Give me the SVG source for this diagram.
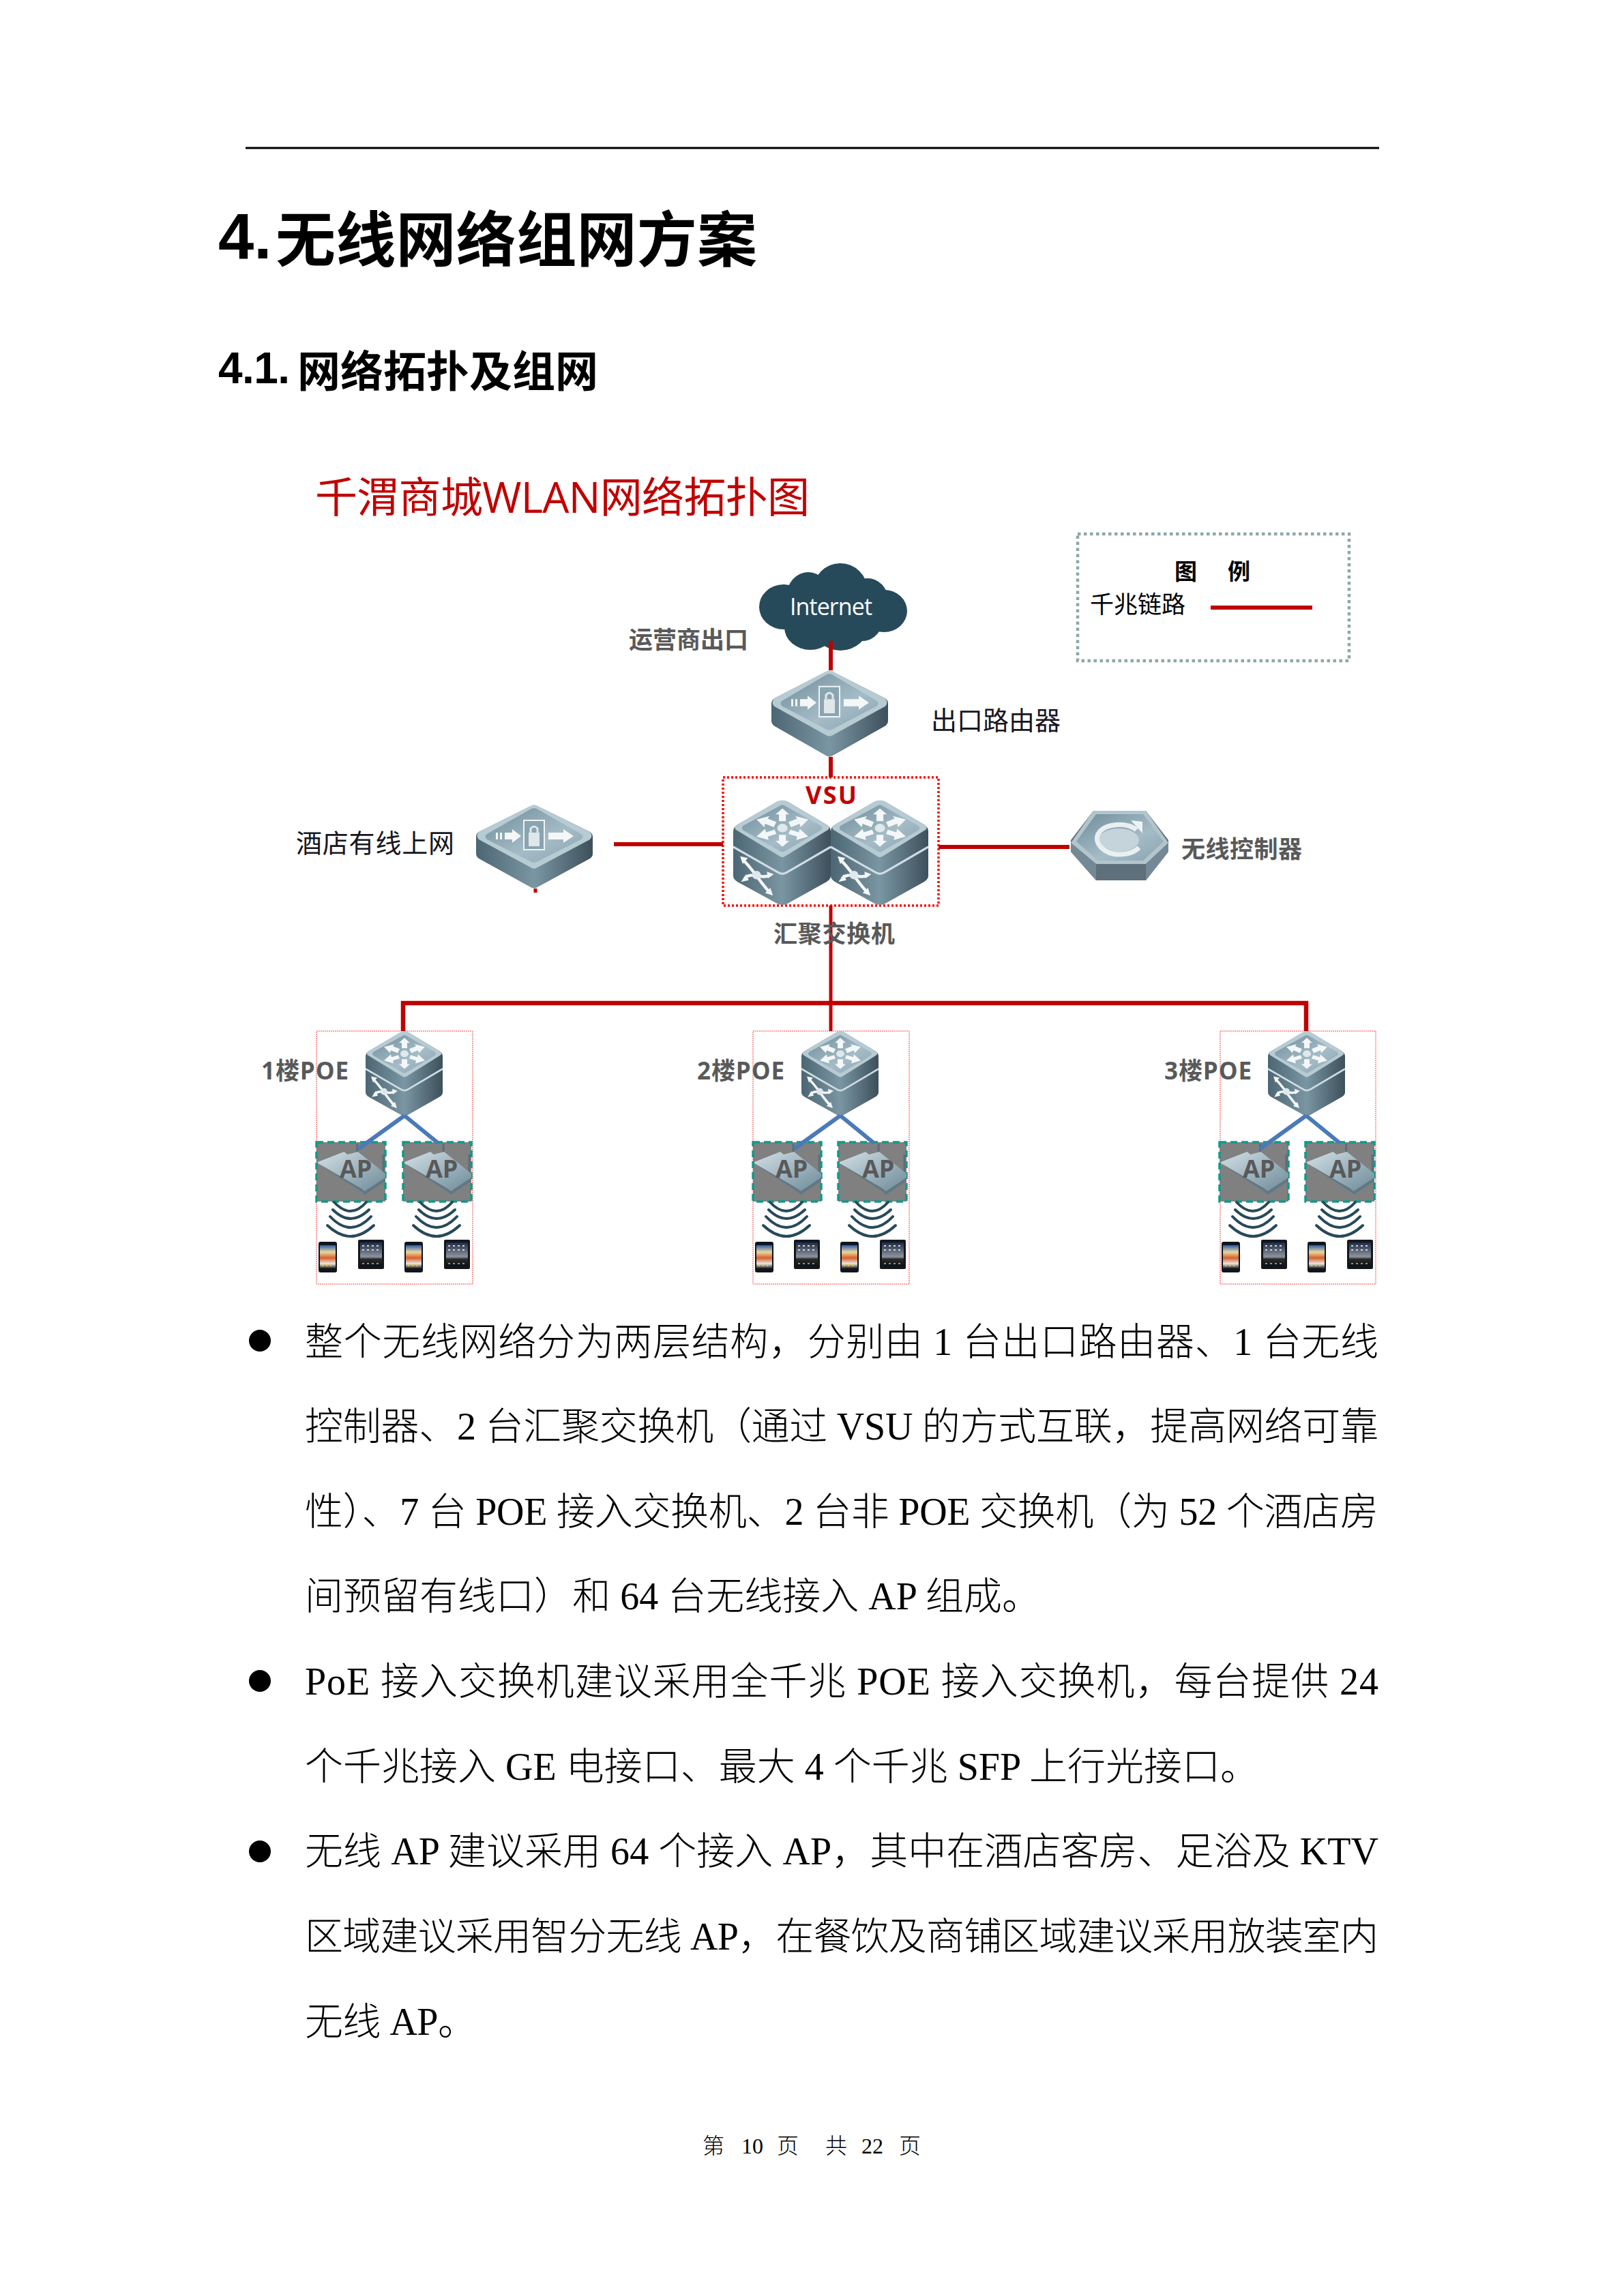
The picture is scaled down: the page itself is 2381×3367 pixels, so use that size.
<svg xmlns="http://www.w3.org/2000/svg" xmlns:xlink="http://www.w3.org/1999/xlink" width="2381" height="3367" viewBox="0 0 2381 3367">
<style>
text{white-space:pre}
.h{font-family:"Liberation Sans","Noto Sans CJK SC",sans-serif;font-weight:700;fill:#000}
.b{font-family:"Liberation Serif","Noto Sans CJK SC",serif;font-size:56px;fill:#000;font-weight:300}
.f{font-family:"Liberation Serif","Noto Sans CJK SC",serif;font-size:32px;fill:#000;font-weight:300}
.s{font-family:"Open Sans","Noto Sans CJK SC",sans-serif}
.g{font-weight:700;fill:#595959;font-size:35px}
.k{font-weight:400;fill:#16161f;font-size:38px}
.red{stroke:#c00000;fill:none;stroke-linecap:butt}
.blue{stroke:#4a7ab8;stroke-width:6;fill:none}
.poe{fill:none;stroke:#ff4040;stroke-width:1;stroke-dasharray:2 1}
.apb{fill:#808080;stroke:#109a88;stroke-width:3.5;stroke-dasharray:10 6}
.wave{fill:none;stroke:#274a5a;stroke-width:4;stroke-linecap:round}
.ic{fill:#f4f7f8}
.icl{fill:none;stroke:#f4f7f8;stroke-width:3.5}
</style>
<defs>
<linearGradient id="side" x1="0" x2="1" y1="0" y2="0"><stop offset="0" stop-color="#4c6674"/><stop offset=".5" stop-color="#7b96a3"/><stop offset=".62" stop-color="#6b8592"/><stop offset="1" stop-color="#3d505b"/></linearGradient>
<linearGradient id="plate" x1="0" x2="1" y1="0" y2="1"><stop offset="0" stop-color="#6f8c9a"/><stop offset=".6" stop-color="#a5bcc7"/><stop offset="1" stop-color="#89a3b0"/></linearGradient>
<linearGradient id="ap" x1="0" x2="1" y1="0" y2="1"><stop offset="0" stop-color="#d3e0e6"/><stop offset="1" stop-color="#6d8a98"/></linearGradient>
<linearGradient id="tab" x1="0" x2="0" y1="0" y2="1"><stop offset="0" stop-color="#1b2a4a"/><stop offset=".6" stop-color="#8d94a0"/><stop offset=".7" stop-color="#2a2a26"/><stop offset="1" stop-color="#101012"/></linearGradient>
<linearGradient id="ph" x1="0" x2="0" y1="0" y2="1"><stop offset="0" stop-color="#2a5aa8"/><stop offset=".3" stop-color="#e8d8a0"/><stop offset=".55" stop-color="#d8602a"/><stop offset=".8" stop-color="#e8e8e8"/><stop offset="1" stop-color="#222"/></linearGradient>
<symbol id="sw" viewBox="0 0 113 123" preserveAspectRatio="none">
<path fill="url(#side)" d="M51,2 Q57,-1 63,2 L108,29 Q113,32 113,37 L113,89 Q113,93 108,96 L62,122 Q57,124 52,122 L5,96 Q0,93 0,89 L0,37 Q0,32 5,29 Z"/>
<path fill="#b7cbd3" d="M51,2 Q57,-1 63,2 L108,29 Q113,32 110,35 L60,66 Q57,68 54,66 L3,35 Q0,32 5,29 Z"/>
<path fill="url(#plate)" d="M54,7 Q57,5 60,7 L101,30 Q105,33 101,36 L60,60 Q57,62 54,60 L12,36 Q8,33 12,30 Z"/>
<path fill="none" stroke="#cfdde3" stroke-width="2.5" d="M0,55 L52,85 Q57,88 62,85 L113,55"/>
<path class="ic" d="M53,25 V17 H49 L57,10 L65,17 H61 V25 Z M53,41 V48 H49 L57,55 L65,48 H61 V41 Z"/>
<path class="ic" d="M64,26 L74,22 L72,19 L87,23 L78,32 L77,28 L67,32 Z M66,35 L76,38 L77,34 L87,43 L73,47 L74,43 L64,40 Z"/>
<path class="ic" transform="translate(114,0) scale(-1,1)" d="M64,26 L74,22 L72,19 L87,23 L78,32 L77,28 L67,32 Z M66,35 L76,38 L77,34 L87,43 L73,47 L74,43 L64,40 Z"/>
<ellipse cx="57" cy="33" rx="6" ry="5" fill="#dfe8ec"/>
<path class="icl" d="M11,70 C22,80 30,95 42,108 M13,92 C22,83 32,94 43,88"/>
<path class="ic" d="M8,66 L17,68 L11,75 Z M46,112 L37,109 L43,103 Z M9,96 L15,87 L18,94 Z M47,87 L39,84 L40,92 Z"/>
<ellipse cx="27" cy="88" rx="5" ry="5" fill="#dfe8ec"/>
</symbol>
<symbol id="rt" viewBox="0 0 171 123" preserveAspectRatio="none">
<path fill="url(#side)" d="M80,2 Q85,-1 90,2 L167,40 Q171,43 171,47 L171,72 Q171,76 167,79 L90,121 Q85,124 80,121 L4,79 Q0,76 0,72 L0,47 Q0,43 4,40 Z"/>
<path fill="#b7cbd3" d="M80,2 Q85,-1 90,2 L167,40 Q172,46 167,51 L90,92 Q85,95 80,92 L4,51 Q-1,46 4,40 Z"/>
<path fill="url(#plate)" d="M81,6 Q85,4 89,6 L154,43 Q159,47 154,51 L89,84 Q85,86 81,84 L16,51 Q11,47 16,43 Z"/>
<path fill="#8aa4b0" stroke="#eef3f5" stroke-width="2" d="M70,23 H100 V66 H70 Z"/>
<path fill="#dfe7eb" d="M77,41 H93 V61 H77 Z"/>
<path fill="none" stroke="#dfe7eb" stroke-width="3" d="M80,41 V35 Q85,29 90,35 V41"/>
<path class="ic" d="M42,41 H53 V36 L66,46 L53,56 V51 H42 Z M106,41 H128 V36 L143,46 L128,56 V51 H106 Z"/>
<path class="ic" d="M29,41 h3 v10 h-3 z M35,41 h3 v10 h-3 z"/>
</symbol>
<symbol id="ac" viewBox="0 0 143 102" preserveAspectRatio="none">
<path fill="#5d707c" d="M33,0 H110 L143,43 V60 L110,102 H37 L0,60 V43 Z"/>
<path fill="#b2c5cd" d="M33,0 H110 L143,47 L110,78 H37 L0,47 Z"/>
<path fill="url(#plate)" d="M37,5 H106 L136,45 L106,73 H40 L8,45 Z"/>
<path fill="#748995" d="M0,47 L37,78 L37,102 L0,60 Z"/>
<path fill="#748995" d="M143,47 L110,78 L110,102 L143,60 Z"/>
<ellipse cx="70" cy="43" rx="30" ry="17" fill="#c5d4da"/>
<path fill="none" stroke="#e9eff2" stroke-width="7" d="M96,28 C85,17 50,17 40,34 C33,48 50,64 70,64 C84,64 94,60 100,54"/>
<path fill="#eef3f5" d="M88,14 L105,16 L105,33 Z"/>
</symbol>
<symbol id="apd" viewBox="0 0 100 87" preserveAspectRatio="none">
<path stroke="#5c6e78" stroke-width="3" d="M59,2 V16 M97,18 V44" fill="none"/>
<path fill="url(#ap)" d="M2,29 L40,14 L45,18 L60,14 L100,46 L100,52 L70,72 L65,68 L2,31 Z"/>
<path fill="#5f7885" d="M2,31 L65,68 L70,72 L100,52 L100,57 L70,77 L66,73 Z"/>
</symbol>
<symbol id="phone" viewBox="0 0 27 45" preserveAspectRatio="none">
<rect width="27" height="45" rx="3" fill="#10141c"/><rect x="2" y="5" width="23" height="34" fill="url(#ph)"/>
<g fill="#f2c230"><rect x="5" y="33" width="2" height="3"/><rect x="11" y="33" width="2" height="3"/><rect x="17" y="33" width="2" height="3"/></g>
</symbol>
<symbol id="tablet" viewBox="0 0 38 43" preserveAspectRatio="none">
<rect width="38" height="43" rx="2" fill="#14161a"/><rect x="3" y="4" width="32" height="35" fill="url(#tab)"/>
<g fill="#e0d8b0"><rect x="6" y="8" width="3" height="2"/><rect x="13" y="8" width="3" height="2"/><rect x="20" y="8" width="3" height="2"/><rect x="27" y="8" width="3" height="2"/><rect x="6" y="14" width="3" height="2"/><rect x="13" y="14" width="3" height="2"/><rect x="20" y="14" width="3" height="2"/><rect x="27" y="14" width="3" height="2"/></g>
<g fill="#5aa0d8"><rect x="6" y="34" width="3" height="2"/><rect x="13" y="34" width="3" height="2"/><rect x="20" y="34" width="3" height="2"/><rect x="27" y="34" width="3" height="2"/></g>
</symbol>
</defs>
<rect width="2381" height="3367" fill="#fff"/>

<g id="page-header">
<rect x="360" y="215.500" width="1662" height="3" fill="#000"/>
<text class="h" font-size="88"><tspan x="320" y="379" font-size="94">4.</tspan><tspan x="404" y="383" textLength="706">无线网络组网方案</tspan></text>
<text class="h" font-size="63"><tspan x="320" y="562" font-size="64" textLength="105">4.1.</tspan><tspan x="436" y="567" textLength="441">网络拓扑及组网</tspan></text>
</g>

<text id="diagram-title" class="s" font-size="62" x="462" y="752" fill="#c00000" textLength="725">千渭商城WLAN网络拓扑图</text>

<g id="legend">
<rect x="1580" y="783" width="398" height="186" fill="none" stroke="#8fa6a8" stroke-width="4.500" stroke-dasharray="4.500 4.500"/>
<text class="s" font-size="33" font-weight="700" x="1722" y="850" fill="#000">图</text>
<text class="s" font-size="33" font-weight="700" x="1800" y="850" fill="#000">例</text>
<text class="s" font-size="35" x="1598" y="899" fill="#000" textLength="140">千兆链路</text>
<rect x="1775" y="888" width="149" height="6" fill="#c00000"/>
</g>

<g id="internet">
<g fill="#274a5a"><ellipse cx="1149" cy="890" rx="36" ry="33"/><ellipse cx="1185" cy="875" rx="32" ry="36"/><ellipse cx="1232" cy="866" rx="40" ry="40"/><ellipse cx="1272" cy="880" rx="30" ry="32"/><ellipse cx="1296" cy="896" rx="34" ry="31"/><ellipse cx="1188" cy="920" rx="38" ry="33"/><ellipse cx="1232" cy="915" rx="42" ry="39"/><ellipse cx="1265" cy="905" rx="30" ry="35"/><ellipse cx="1220" cy="890" rx="70" ry="40"/></g>
<text class="s" font-size="34" x="1158" y="902" fill="#fff" textLength="121">Internet</text>
<text class="s g" x="922" y="951" textLength="175">运营商出口</text>
</g>

<g id="exit-router">
<use xlink:href="#rt" href="#rt" x="1131" y="983" width="171" height="127"/>
<text class="s k" x="1365" y="1070" textLength="190">出口路由器</text>
</g>

<g id="hotel-router">
<use xlink:href="#rt" href="#rt" x="698" y="1180" width="171" height="123"/>
<text class="s k" x="434" y="1250" textLength="232">酒店有线上网</text>
</g>

<g id="vsu">
<rect x="1060" y="1140" width="316" height="188" fill="none" stroke="#ff0000" stroke-width="3.500" stroke-dasharray="3 3"/>
<use xlink:href="#sw" href="#sw" x="1075" y="1173" width="143" height="154"/>
<use xlink:href="#sw" href="#sw" x="1218" y="1173" width="143" height="154"/>
<text class="s" font-size="36" font-weight="700" x="1181" y="1179" fill="#c00000" textLength="75">VSU</text>
</g>

<g id="wireless-controller">
<use xlink:href="#ac" href="#ac" x="1570" y="1189" width="143" height="102"/>
<text class="s g" x="1732" y="1258" textLength="177">无线控制器</text>
</g>

<g id="floor1">
<rect class="poe" x="464" y="1512" width="229" height="371"/>
<use xlink:href="#sw" href="#sw" x="536" y="1512" width="113" height="124"/>
<text class="s g" x="383" y="1583" textLength="128">1楼POE</text>
<g id="f1-ap1"><rect class="apb" x="464" y="1675" width="101" height="87"/><use xlink:href="#apd" href="#apd" x="464" y="1675" width="101" height="87"/><text class="s" font-size="36" font-weight="700" x="498" y="1727" fill="#595959">AP</text></g>
<g id="f1-ap2"><rect class="apb" x="591" y="1675" width="100" height="87"/><use xlink:href="#apd" href="#apd" x="591" y="1675" width="100" height="87"/><text class="s" font-size="36" font-weight="700" x="624" y="1727" fill="#595959">AP</text></g>
<g id="f1-w1" transform="translate(514,0)"><path class="wave" d="M-24,1763 Q0,1789 23,1763 M-26,1774 Q0,1800 27,1774 M-30,1784 Q0,1816 30,1784 M-34,1797 Q0,1829 34,1797"/></g>
<g id="f1-w2" transform="translate(640,0)"><path class="wave" d="M-24,1763 Q0,1789 23,1763 M-26,1774 Q0,1800 27,1774 M-30,1784 Q0,1816 30,1784 M-34,1797 Q0,1829 34,1797"/></g>
<use xlink:href="#phone" href="#phone" x="467" y="1821" width="27" height="45"/><use xlink:href="#tablet" href="#tablet" x="525" y="1818" width="38" height="43"/>
<use xlink:href="#phone" href="#phone" x="593" y="1821" width="27" height="45"/><use xlink:href="#tablet" href="#tablet" x="651" y="1818" width="38" height="43"/>
</g>

<g id="floor2">
<rect class="poe" x="1104" y="1512" width="229" height="371"/>
<use xlink:href="#sw" href="#sw" x="1175" y="1512" width="113" height="124"/>
<text class="s g" x="1022" y="1583" textLength="128">2楼POE</text>
<g id="f2-ap1"><rect class="apb" x="1104" y="1675" width="100" height="87"/><use xlink:href="#apd" href="#apd" x="1104" y="1675" width="100" height="87"/><text class="s" font-size="36" font-weight="700" x="1137" y="1727" fill="#595959">AP</text></g>
<g id="f2-ap2"><rect class="apb" x="1229" y="1675" width="100" height="87"/><use xlink:href="#apd" href="#apd" x="1229" y="1675" width="100" height="87"/><text class="s" font-size="36" font-weight="700" x="1264" y="1727" fill="#595959">AP</text></g>
<g id="f2-w1" transform="translate(1153,0)"><path class="wave" d="M-24,1763 Q0,1789 23,1763 M-26,1774 Q0,1800 27,1774 M-30,1784 Q0,1816 30,1784 M-34,1797 Q0,1829 34,1797"/></g>
<g id="f2-w2" transform="translate(1279,0)"><path class="wave" d="M-24,1763 Q0,1789 23,1763 M-26,1774 Q0,1800 27,1774 M-30,1784 Q0,1816 30,1784 M-34,1797 Q0,1829 34,1797"/></g>
<use xlink:href="#phone" href="#phone" x="1107" y="1821" width="27" height="45"/><use xlink:href="#tablet" href="#tablet" x="1164" y="1818" width="38" height="43"/>
<use xlink:href="#phone" href="#phone" x="1232" y="1821" width="27" height="45"/><use xlink:href="#tablet" href="#tablet" x="1290" y="1818" width="38" height="43"/>
</g>

<g id="floor3">
<rect class="poe" x="1789" y="1512" width="228" height="371"/>
<use xlink:href="#sw" href="#sw" x="1859" y="1512" width="113" height="124"/>
<text class="s g" x="1707" y="1583" textLength="128">3楼POE</text>
<g id="f3-ap1"><rect class="apb" x="1788" y="1675" width="101" height="87"/><use xlink:href="#apd" href="#apd" x="1788" y="1675" width="101" height="87"/><text class="s" font-size="36" font-weight="700" x="1822" y="1727" fill="#595959">AP</text></g>
<g id="f3-ap2"><rect class="apb" x="1914" y="1675" width="101" height="87"/><use xlink:href="#apd" href="#apd" x="1914" y="1675" width="101" height="87"/><text class="s" font-size="36" font-weight="700" x="1949" y="1727" fill="#595959">AP</text></g>
<g id="f3-w1" transform="translate(1837,0)"><path class="wave" d="M-24,1763 Q0,1789 23,1763 M-26,1774 Q0,1800 27,1774 M-30,1784 Q0,1816 30,1784 M-34,1797 Q0,1829 34,1797"/></g>
<g id="f3-w2" transform="translate(1964,0)"><path class="wave" d="M-24,1763 Q0,1789 23,1763 M-26,1774 Q0,1800 27,1774 M-30,1784 Q0,1816 30,1784 M-34,1797 Q0,1829 34,1797"/></g>
<use xlink:href="#phone" href="#phone" x="1791" y="1821" width="27" height="45"/><use xlink:href="#tablet" href="#tablet" x="1849" y="1818" width="38" height="43"/>
<use xlink:href="#phone" href="#phone" x="1917" y="1821" width="27" height="45"/><use xlink:href="#tablet" href="#tablet" x="1975" y="1818" width="38" height="43"/>
</g>

<g id="connectors">
<path class="red" stroke-width="6" d="M1218,940 V983 M1218,1110 V1140"/>
<path class="red" stroke-width="6" d="M900,1238 H1060 M1376,1242 H1568"/>
<path class="red" stroke-width="5" d="M1218,1328 V1512"/>
<path class="red" stroke-width="6.500" d="M591,1512 V1471 H1915 V1512"/>
<path class="red" stroke-width="5" d="M785,1303 V1309"/>
<path class="blue" d="M593,1636 L525,1685 M593,1636 L642,1676"/>
<path class="blue" d="M1232,1636 L1164,1685 M1232,1636 L1281,1676"/>
<path class="blue" d="M1915,1636 L1847,1685 M1915,1636 L1964,1676"/>
</g>

<text id="aggregation-label" class="s g" x="1134" y="1382" textLength="178">汇聚交换机</text>

<g id="body">
<circle cx="381" cy="1966" r="16"/>
<circle cx="381" cy="2465" r="16"/>
<circle cx="381" cy="2715" r="16"/>
<text class="b" x="447" y="1987" textLength="1574">整个无线网络分为两层结构&#xFF0C;分别由 1 台出口路由器、1 台无线</text>
<text class="b" x="447" y="2111" textLength="1574">控制器、2 台汇聚交换机&#xFF08;通过 VSU 的方式互联&#xFF0C;提高网络可靠</text>
<text class="b" x="447" y="2236" textLength="1574">性&#xFF09;、7 台 POE 接入交换机、2 台非 POE 交换机&#xFF08;为 52 个酒店房</text>
<text class="b" x="447" y="2360" textLength="1078">间预留有线口&#xFF09;和 64 台无线接入 AP 组成。</text>
<text class="b" x="447" y="2485" textLength="1574">PoE 接入交换机建议采用全千兆 POE 接入交换机&#xFF0C;每台提供 24</text>
<text class="b" x="447" y="2610" textLength="1398">个千兆接入 GE 电接口、最大 4 个千兆 SFP 上行光接口。</text>
<text class="b" x="447" y="2734" textLength="1574">无线 AP 建议采用 64 个接入 AP&#xFF0C;其中在酒店客房、足浴及 KTV</text>
<text class="b" x="447" y="2859" textLength="1574">区域建议采用智分无线 AP&#xFF0C;在餐饮及商铺区域建议采用放装室内</text>
<text class="b" x="447" y="2984" textLength="251">无线 AP。</text>
</g>

<g id="footer">
<text class="f" y="3158"><tspan x="1030">第</tspan><tspan x="1087">10</tspan><tspan x="1139">页</tspan><tspan x="1210">共</tspan><tspan x="1263">22</tspan><tspan x="1318">页</tspan></text>
</g>
</svg>
